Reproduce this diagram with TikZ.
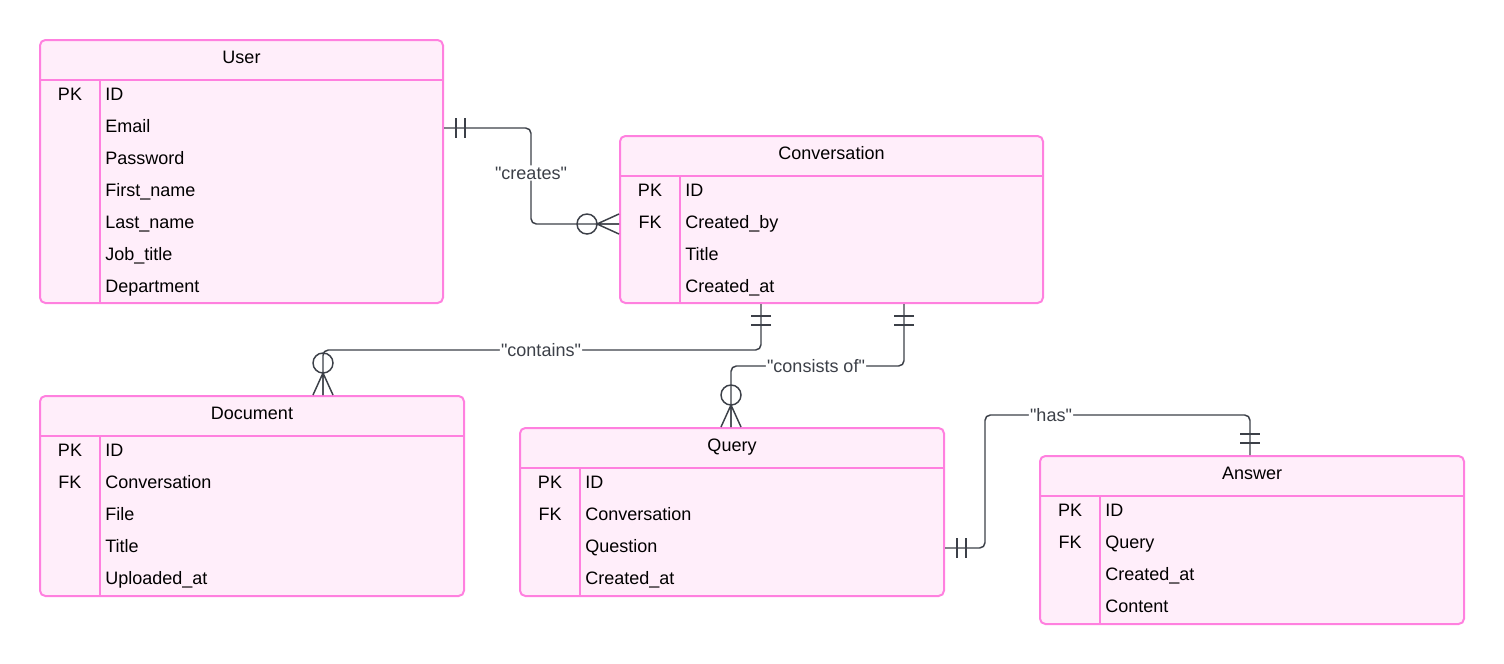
\documentclass[tikz,border=0pt]{standalone}
\usepackage{fontspec}
\setmainfont{Liberation Sans}
\usetikzlibrary{fit}
\definecolor{erpink}{RGB}{255,128,223}
\definecolor{erfill}{RGB}{255,238,250}
\definecolor{erline}{RGB}{60,64,72}
\tikzstyle{entity} = [draw=erpink, fill=erfill, line width=1.5pt, rounded corners=4pt, inner sep=0pt]
\tikzstyle{sep} = [draw=erpink, line width=1.5pt]
\tikzstyle{title} = [anchor=base, inner sep=0pt]
\tikzstyle{key} = [anchor=base, inner sep=0pt]
\tikzstyle{attr} = [anchor=base west, inner sep=0pt]
\tikzstyle{rel} = [draw=erline, line width=1.1pt, rounded corners=4pt]
\tikzstyle{rellabel} = [fill=white, inner sep=1pt, text=erline]
\tikzset{
  mandone/.pic={\draw[erline, line width=1.2pt] (12,-10) -- (12,10) (21,-10) -- (21,10);},
  optmany/.pic={\draw[erline, line width=1.1pt] (0,-10) -- (22,0) -- (0,10) (0,0) -- (22,0) (32,0) circle (10);}
}
\newcommand{\quoted}[1]{\textquotedbl#1\textquotedbl}

\begin{document}
\begin{tikzpicture}[x=0.75pt, y=-0.75pt, font=\fontsize{13.5}{16}\selectfont]
        \useasboundingbox (0,0) rectangle (1504,664);
        \node[entity, fit={(40,40) (443,303)}] (user) {};
        \draw[sep] (40,80) -- (443,80) (100,80) -- (100,303);
        \node[title] (user-title) at (241.5,63) {User};
        \node[key] (user-pk) at (70,100) {PK};
        \foreach \a [count=\i from 0] in {ID,Email,Password,First\_name,Last\_name,Job\_title,Department}
            \node[attr] (user-\i) at (105,100+32*\i) {\a};

        \node[entity, fit={(620,136) (1043,303)}] (conv) {};
        \draw[sep] (620,176) -- (1043,176) (680,176) -- (680,303);
        \node[title] (conv-title) at (831.5,159) {Conversation};
        \node[key] (conv-pk) at (650,196) {PK};
        \node[key] (conv-fk) at (650,228) {FK};
        \foreach \a [count=\i from 0] in {ID,Created\_by,Title,Created\_at}
            \node[attr] (conv-\i) at (685,196+32*\i) {\a};

        \node[entity, fit={(40,396) (464,596)}] (doc) {};
        \draw[sep] (40,436) -- (464,436) (100,436) -- (100,596);
        \node[title] (doc-title) at (252,419) {Document};
        \node[key] (doc-pk) at (70,456) {PK};
        \node[key] (doc-fk) at (70,488) {FK};
        \foreach \a [count=\i from 0] in {ID,Conversation,File,Title,Uploaded\_at}
            \node[attr] (doc-\i) at (105,456+32*\i) {\a};

        \node[entity, fit={(520,428) (944,596)}] (query) {};
        \draw[sep] (520,468) -- (944,468) (580,468) -- (580,596);
        \node[title] (query-title) at (732,451) {Query};
        \node[key] (query-pk) at (550,488) {PK};
        \node[key] (query-fk) at (550,520) {FK};
        \foreach \a [count=\i from 0] in {ID,Conversation,Question,Created\_at}
            \node[attr] (query-\i) at (585,488+32*\i) {\a};

        \node[entity, fit={(1040,456) (1464,624)}] (answer) {};
        \draw[sep] (1040,496) -- (1464,496) (1100,496) -- (1100,624);
        \node[title] (answer-title) at (1252,479) {Answer};
        \node[key] (answer-pk) at (1070,516) {PK};
        \node[key] (answer-fk) at (1070,548) {FK};
        \foreach \a [count=\i from 0] in {ID,Query,Created\_at,Content}
            \node[attr] (answer-\i) at (1105,516+32*\i) {\a};

        \path[rel] (user.east |- 0,128) -| (531,173) node[rellabel] {\quoted{creates}} |- (conv.west |- 0,224);
        \path[rel] (conv.south -| 761,0) |- (541,350) node[rellabel] {\quoted{contains}} -| (doc.north -| 323,0);
        \path[rel] (conv.south -| 904,0) |- (816,366) node[rellabel] {\quoted{consists of}} -| (query.north -| 731,0);
        \path[rel] (query.east |- 0,548) -| (985,415) -- (1051,415) node[rellabel] {\quoted{has}} -| (answer.north -| 1250,0);

        \pic at (user.east |- 0,128) {mandone};
        \pic[rotate=180] at (conv.west |- 0,224) {optmany};
        \pic[rotate=-90] at (conv.south -| 761,0) {mandone};
        \pic[rotate=90] at (doc.north -| 323,0) {optmany};
        \pic[rotate=-90] at (conv.south -| 904,0) {mandone};
        \pic[rotate=90] at (query.north -| 731,0) {optmany};
        \pic at (query.east |- 0,548) {mandone};
        \pic[rotate=90] at (answer.north -| 1250,0) {mandone};
    \end{tikzpicture}
\end{document}
